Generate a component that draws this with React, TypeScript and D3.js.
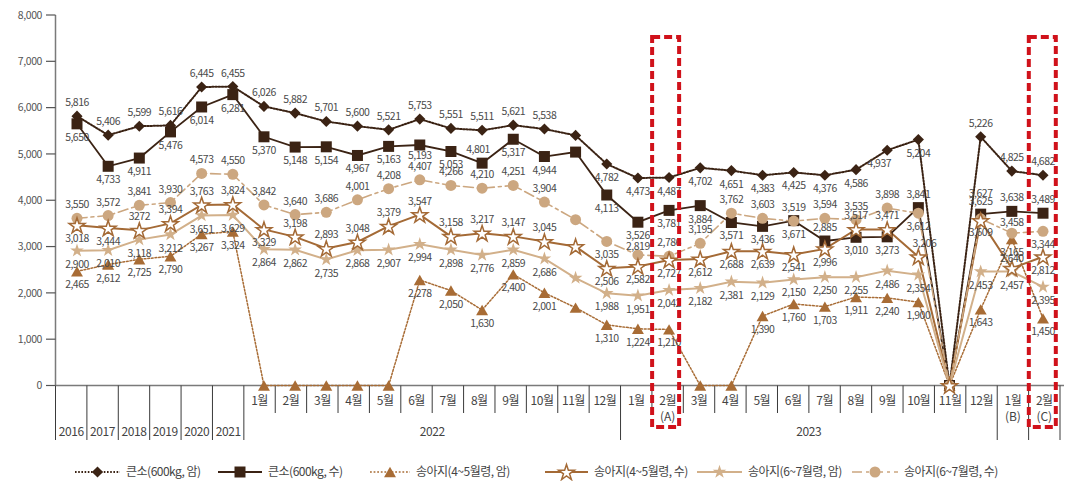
import * as d3 from "d3";

// period keys (x categories)
const periods = [
  "2016", "2017", "2018", "2019", "2020", "2021",
  "2022-01", "2022-02", "2022-03", "2022-04", "2022-05", "2022-06",
  "2022-07", "2022-08", "2022-09", "2022-10", "2022-11", "2022-12",
  "2023-01", "2023-02", "2023-03", "2023-04", "2023-05", "2023-06",
  "2023-07", "2023-08", "2023-09", "2023-10", "2023-11", "2023-12",
  "2024-01", "2024-02",
];

const monthTexts = [
  "", "", "", "", "", "",
  "1월", "2월", "3월", "4월", "5월", "6월", "7월", "8월", "9월", "10월", "11월", "12월",
  "1월", "2월", "3월", "4월", "5월", "6월", "7월", "8월", "9월", "10월", "11월", "12월",
  "1월", "2월",
];

const subTexts: Record<string, string> = { "2023-02": "(A)", "2024-01": "(B)", "2024-02": "(C)" };

const yearGroups = [
  { text: "2016", from: "2016", to: "2016" },
  { text: "2017", from: "2017", to: "2017" },
  { text: "2018", from: "2018", to: "2018" },
  { text: "2019", from: "2019", to: "2019" },
  { text: "2020", from: "2020", to: "2020" },
  { text: "2021", from: "2021", to: "2021" },
  { text: "2022", from: "2022-01", to: "2022-12" },
  { text: "2023", from: "2023-01", to: "2023-12" },
  { text: "", from: "2024-01", to: "2024-01" },
  { text: "", from: "2024-02", to: "2024-02" },
];

const highlighted = ["2023-02", "2024-02"];

const yTicks = [0, 1000, 2000, 3000, 4000, 5000, 6000, 7000, 8000];

// 큰소(600kg, 암)
const cowFemale = [5816, 5406, 5599, 5616, 6445, 6455, 6026, 5882, 5701, 5600, 5521, 5753, 5551, 5511, 5621, 5538, 5400, 4782, 4480, 4490, 4700, 4640, 4540, 4600, 4540, 4660, 5080, 5310, 0, 5370, 4630, 4540];
const cowFemaleLabels = ["5,816", "5,406", "5,599", "5,616", "6,445", "6,455", "6,026", "5,882", "5,701", "5,600", "5,521", "5,753", "5,551", "5,511", "5,621", "5,538", null, "4,782", "4,473", "4,487", "4,702", "4,651", "4,383", "4,425", "4,376", "4,586", "4,937", "5,204", null, "5,226", "4,825", "4,682"];

// 큰소(600kg, 수)
const cowMale = [5650, 4733, 4911, 5476, 6014, 6281, 5370, 5148, 5154, 4967, 5163, 5193, 5053, 4801, 5317, 4944, 5040, 4113, 3526, 3781, 3884, 3520, 3436, 3560, 3120, 3200, 3210, 3841, 0, 3700, 3760, 3720];
const cowMaleLabels = ["5,650", "4,733", "4,911", "5,476", "6,014", "6,281", "5,370", "5,148", "5,154", "4,967", "5,163", "5,193", "5,053", "4,801", "5,317", "4,944", null, "4,113", "3,526", "3,781", "3,884", "3,571", "3,436", "3,671", "2,885", "3,010", "3,273", "3,841", null, "3,627", "3,638", "3,489"];

// 송아지(4~5월령, 암)
const calf45Female = [2465, 2612, 2725, 2790, 3267, 3324, 0, 0, 0, 0, 0, 2278, 2050, 1630, 2400, 2001, 1680, 1310, 1224, 1210, 0, 0, 1500, 1760, 1703, 1911, 1890, 1800, 0, 1643, 3160, 1450];
const calf45FemaleLabels = ["2,465", "2,612", "2,725", "2,790", "3,267", "3,324", null, null, null, null, null, "2,278", "2,050", "1,630", "2,400", "2,001", null, "1,310", "1,224", "1,210", null, null, "1,390", "1,760", "1,703", "1,911", "2,240", "1,900", null, "1,643", "3,165", "1,450"];

// 송아지(4~5월령, 수)
const calf45Male = [3460, 3400, 3350, 3500, 3900, 3910, 3370, 3210, 2960, 3100, 3440, 3690, 3220, 3290, 3220, 3110, 3000, 2530, 2570, 2710, 2730, 2900, 2900, 2830, 2950, 3370, 3370, 2780, 0, 3560, 2530, 2780];
const calf45MaleLabels = ["3,018", "3,444", "3272", "3,394", "3,763", "3,824", "3,329", "3,198", "2,893", "3,048", "3,379", "3,547", "3,158", "3,217", "3,147", "3,045", null, "2,506", "2,582", "2,727", "2,612", "2,688", "2,639", "2,541", "2,996", "3,517", "3,471", "3,206", null, "3,625", "2,640", "2,812"];

// 송아지(6~7월령, 암)
const calf67Female = [2910, 2920, 3150, 3260, 3670, 3680, 2940, 2930, 2720, 2920, 2930, 3050, 2930, 2820, 2930, 2740, 2320, 1990, 1940, 2060, 2100, 2240, 2220, 2290, 2340, 2340, 2480, 2390, 0, 2460, 2460, 2130];
const calf67FemaleLabels = ["2,900", "2,010", "3,118", "3,212", "3,651", "3,629", "2,864", "2,862", "2,735", "2,868", "2,907", "2,994", "2,898", "2,776", "2,859", "2,686", null, "1,988", "1,951", "2,042", "2,182", "2,381", "2,129", "2,150", "2,250", "2,255", "2,486", "2,354", null, "2,453", "2,457", "2,395"];

// 송아지(6~7월령, 수)
const calf67Male = [3610, 3670, 3890, 3950, 4580, 4560, 3900, 3690, 3740, 4010, 4250, 4440, 4320, 4260, 4320, 3960, 3580, 3110, 2820, 2790, 3070, 3720, 3610, 3550, 3610, 3580, 3830, 3720, 0, 3600, 3290, 3330];
const calf67MaleLabels = ["3,550", "3,572", "3,841", "3,930", "4,573", "4,550", "3,842", "3,640", "3,686", "4,001", "4,208", "4,407", "4,266", "4,210", "4,251", "3,904", null, "3,035", "2,819", "2,786", "3,195", "3,762", "3,603", "3,519", "3,594", "3,535", "3,898", "3,612", null, "3,609", "3,458", "3,344"];

// label placement: a = above, b = below
const placeCowF = "aaaaaaaaaaaaaaaaabbbbbbbbbbb-aaa";
const placeCowM = "bbbbbbbbbbbbbabbbbbbbbbbabba-aaa";
const placeC45F = "bbbbbbbbbbbbbbbbbbbbbbbbbbbb-bbb";
const placeC45M = "bbaaaabaaaaaaaaaabbbbbbbbaaa-aab";
const placeC67F = "bbbbbbbbbbbbbbbbbbbbbbbbbbbb-bbb";
const placeC67M = "aaaaaaaaaaaaaaaaabaaaaaaaaab-bab";

// fine nudges for crowded labels: "series-index" -> [dx, dy]
const labelNudge: Record<string, [number, number]> = {
  "0-26": [-8, 0],
  "1-11": [0, -3],
  "1-13": [-4, 0],
  "1-29": [0, -7],
  "3-27": [6, 0],
  "3-29": [0, -6],
  "3-30": [0, 4],
  "5-18": [0, 5],
  "5-30": [0, 3],
};

const DARK = "#3b2314";
const BROWN = "#a46a36";
const TAN = "#cca780";

type Marker = "diamond" | "square" | "triangle" | "star" | "starFilled" | "circle";

const series = [
  { name: "큰소(600kg, 암)", values: cowFemale, labels: cowFemaleLabels, place: placeCowF, color: DARK, width: 2, dash: "1.6 1.6", marker: "diamond" as Marker },
  { name: "큰소(600kg, 수)", values: cowMale, labels: cowMaleLabels, place: placeCowM, color: DARK, width: 1.8, dash: "", marker: "square" as Marker },
  { name: "송아지(4~5월령, 암)", values: calf45Female, labels: calf45FemaleLabels, place: placeC45F, color: "#a86c35", width: 1.5, dash: "1.8 1.8", marker: "triangle" as Marker },
  { name: "송아지(4~5월령, 수)", values: calf45Male, labels: calf45MaleLabels, place: placeC45M, color: BROWN, width: 2, dash: "", marker: "star" as Marker },
  { name: "송아지(6~7월령, 암)", values: calf67Female, labels: calf67FemaleLabels, place: placeC67F, color: "#d2b08a", width: 2, dash: "", marker: "starFilled" as Marker },
  { name: "송아지(6~7월령, 수)", values: calf67Male, labels: calf67MaleLabels, place: placeC67M, color: TAN, width: 1.6, dash: "10 4 3 4", marker: "circle" as Marker },
];

const legendSpots = [
  [75, 120], [218, 262], [370, 410], [545, 588], [697, 742], [852, 898],
];

const symbols: Record<Marker, string> = {
  diamond: d3.symbol(d3.symbolSquare, 62)() as string,
  square: d3.symbol(d3.symbolSquare, 121)() as string,
  triangle: d3.symbol(d3.symbolTriangle, 62)() as string,
  star: d3.symbol(d3.symbolStar, 78)() as string,
  starFilled: d3.symbol(d3.symbolStar, 58)() as string,
  circle: d3.symbol(d3.symbolCircle, 95)() as string,
};

function MarkerShape({ kind, color, cx, cy }: { kind: Marker; color: string; cx: number; cy: number }) {
  if (kind === "diamond")
    return <path d={symbols.diamond} transform={`translate(${cx},${cy}) rotate(45)`} fill={color} />;
  if (kind === "triangle")
    return <path d={symbols.triangle} transform={`translate(${cx},${cy + 1.7})`} fill={color} />;
  if (kind === "star")
    return <path d={symbols.star} transform={`translate(${cx},${cy + 0.8})`} fill="#fff" stroke={color} strokeWidth={1.5} strokeLinejoin="miter" />;
  return <path d={symbols[kind]} transform={`translate(${cx},${cy})`} fill={color} />;
}

export default function App() {
  const x = d3.scaleBand<string>().domain(periods).range([55.5, 1060]);
  const xp = d3.scalePoint<string>().domain(periods).range([77, 1043]);
  const y = d3.scaleLinear().domain([0, 8000]).range([385.5, 15]);
  const fmt = d3.format(",");

  const line = d3
    .line<number>()
    .x((_, i) => xp(periods[i])!)
    .y((d) => y(d));

  const bw = x.bandwidth();
  const groupEdges = new Set<number>();
  yearGroups.forEach((g) => {
    groupEdges.add(x(g.from)!);
    groupEdges.add(x(g.to)! + bw);
  });
  const edges = periods.map((p) => x(p)!).concat([x(periods[periods.length - 1])! + bw]);

  const labelFont = "'Noto Sans CJK KR', 'Noto Sans', sans-serif";

  // draw open-star series markers last so they sit on top
  const markerOrder = [0, 1, 2, 4, 5, 3];

  return (
    <svg width={1073} height={481} style={{ position: "absolute", left: 0, top: 0, background: "#fff" }} fontFamily={labelFont}>
      {/* y axis */}
      <line x1={55.5} x2={55.5} y1={y(8000)} y2={y(0)} stroke="#7a7a7a" strokeWidth={1.5} />
      {yTicks.map((t) => (
        <g key={t}>
          <line x1={46} x2={55.5} y1={y(t)} y2={y(t)} stroke="#555" strokeWidth={1.2} />
          <text x={42} y={y(t)} dy="0.35em" textAnchor="end" fontSize={10.5} fill="#555" letterSpacing={-0.4}>
            {fmt(t)}
          </text>
        </g>
      ))}
      {/* baseline */}
      <line x1={55.5} x2={1064} y1={y(0)} y2={y(0)} stroke="#7a7a7a" strokeWidth={1.5} />

      {/* category table */}
      {edges.map((ex, i) => (
        <line key={i} x1={ex} x2={ex} y1={y(0)} y2={groupEdges.has(ex) ? 440 : 413} stroke="#3a3a3a" strokeWidth={1} />
      ))}
      {periods.map((p, i) => (
        <g key={p}>
          <text x={x(p)! + bw / 2} y={405} textAnchor="middle" fontSize={12} fill="#444" letterSpacing={-0.5}>
            {monthTexts[i]}
          </text>
          {subTexts[p] && (
            <text x={x(p)! + bw / 2} y={421} textAnchor="middle" fontSize={12} fill="#444">
              {subTexts[p]}
            </text>
          )}
        </g>
      ))}
      {yearGroups.map((g) => (
        <text key={g.from} x={(x(g.from)! + x(g.to)! + bw) / 2} y={436} textAnchor="middle" fontSize={12} fill="#444" letterSpacing={-0.4}>
          {g.text}
        </text>
      ))}

      {/* lines */}
      {series.map((s) => (
        <path key={s.name} d={line(s.values)!} fill="none" stroke={s.color} strokeWidth={s.width} strokeDasharray={s.dash || undefined} strokeLinecap={s.dash.startsWith("1") ? "round" : "butt"} />
      ))}

      {/* markers */}
      {markerOrder.map((si) => {
        const s = series[si];
        return (
          <g key={s.name}>
            {s.values.map((v, i) => (
              <MarkerShape key={i} kind={s.marker} color={s.color} cx={xp(periods[i])!} cy={y(v)} />
            ))}
          </g>
        );
      })}

      {/* data labels */}
      {series.map((s, si) => (
        <g key={s.name}>
          {s.values.map((v, i) => {
            const lab = s.labels[i];
            if (!lab) return null;
            const above = s.place[i] === "a";
            const [ndx, ndy] = labelNudge[`${si}-${i}`] ?? [0, 0];
            return (
              <text key={i} x={xp(periods[i])! + ndx} y={y(v) + (above ? -10 : 17) + ndy} textAnchor="middle" fontSize={10.5} fill="#4a4a4a" letterSpacing={-0.5}>
                {lab}
              </text>
            );
          })}
        </g>
      ))}

      {/* highlight boxes */}
      {highlighted.map((p) => (
        <rect key={p} x={x(p)! + bw / 2 - 15.5} y={37} width={27} height={390} fill="none" stroke="#d0121b" strokeWidth={4} strokeDasharray="8 4" />
      ))}

      {/* legend */}
      {series.map((s, i) => {
        const [a, b] = legendSpots[i];
        return (
          <g key={s.name}>
            <line x1={a} x2={b} y1={472} y2={472} stroke={s.color} strokeWidth={s.width} strokeDasharray={s.dash || undefined} />
            <MarkerShape kind={s.marker} color={s.color} cx={(a + b) / 2} cy={472} />
            <text x={b + 6} y={472} dy="0.35em" fontSize={12} fill="#444" letterSpacing={-0.5}>
              {s.name}
            </text>
          </g>
        );
      })}
    </svg>
  );
}
